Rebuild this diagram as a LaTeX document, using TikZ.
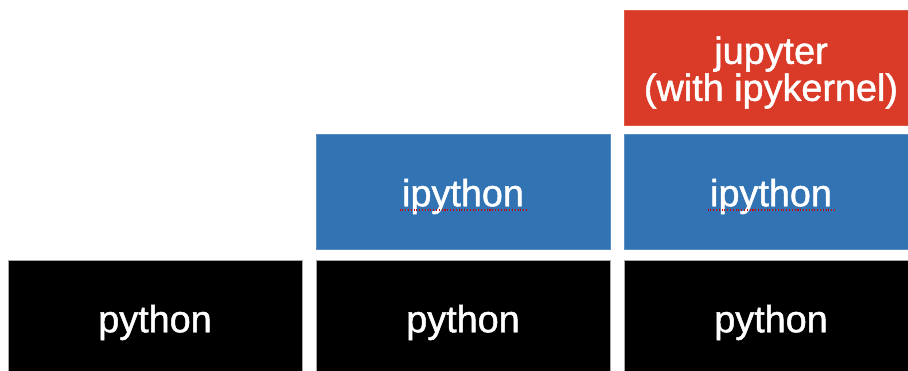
\documentclass[tikz,border=0pt]{standalone}
\usepackage{fontspec}
\setmainfont{Liberation Sans}
\newfontfamily\layerfont[FakeBold=1.3]{Liberation Sans}
\usepackage{xcolor}
\usepackage{tikz}
\usetikzlibrary{positioning}
\definecolor{pyblack}{RGB}{0,0,0}
\definecolor{ipblue}{RGB}{50,115,180}
\definecolor{jupred}{RGB}{218,58,40}
\tikzstyle{layer} = [
    rectangle, outer sep=0pt, inner sep=0pt,
    minimum width=5.88cm, minimum height=2.3cm,
    text centered, align=center, text=white,
    font=\layerfont\fontsize{21.5}{19.8}\selectfont]
\tikzstyle{oneline} = [text height=0.75cm, text depth=0.16cm]
\tikzstyle{pybox} = [layer, oneline, fill=pyblack, draw=gray!70, line width=0.4pt]
\tikzstyle{ipbox} = [layer, oneline, fill=ipblue, draw=ipblue!80!white, line width=0.4pt]
\tikzstyle{jupbox} = [layer, fill=jupred, draw=jupred!85!white, line width=0.4pt]
\tikzstyle{spell} = [red!80!black, densely dotted, line width=0.6pt]

\begin{document}
\begin{tikzpicture}

  \useasboundingbox (0,0) rectangle (18.16,-7.42);
  \clip (0,0) rectangle (18.16,-7.42);

  % bottom row: plain interpreter
  \node (py1) [pybox, anchor=north west] at (0.16,-5.2) {python};
  \node (py2) [pybox, right=0.28cm of py1] {python};
  \node (py3) [pybox, right=0.28cm of py2] {python};

  % middle row
  \node (ip2) [ipbox, above=0.22cm of py2] {ipython};
  \node (ip3) [ipbox, above=0.22cm of py3] {ipython};

  % top row (strut pushes the two lines down a little)
  \node (jup) [jupbox, above=0.18cm of ip3] {\rule{0pt}{0.75cm}jupyter\\(with ipykernel)};

  % spell-check marks under the text
  \draw [spell] (ip2.center) ++(-1.27,-0.37) -- ++(2.54,0);
  \draw [spell] (ip3.center) ++(-1.27,-0.37) -- ++(2.54,0);

\end{tikzpicture}
\end{document}
